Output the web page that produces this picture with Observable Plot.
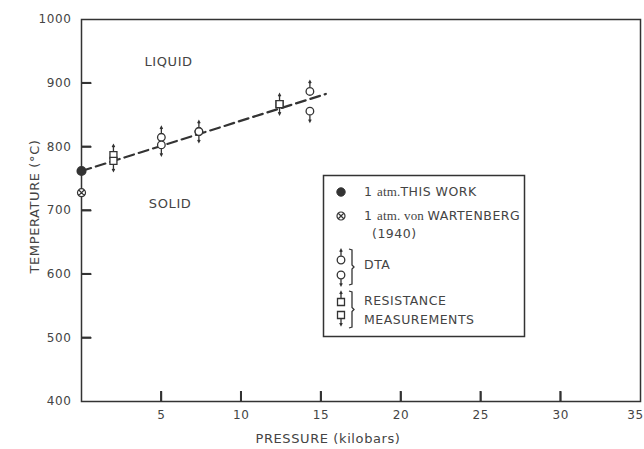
<!DOCTYPE html>
<html><head><meta charset="utf-8">
<script src="https://cdn.jsdelivr.net/npm/d3@7"></script>
<script src="https://cdn.jsdelivr.net/npm/@observablehq/plot@0.6"></script>
<style>
body{margin:0;background:#fff;}
#wrap{position:relative;width:644px;height:449px;}
#wrap > svg{position:absolute;left:0;top:0;}
</style></head><body><div id="wrap"></div>
<script>
// ---- data ----
const xTicks = [5, 10, 15, 20, 25, 30];
const xTickLast = [35];
const yTicks = [400, 500, 600, 700, 800, 900, 1000];
const yInnerTicks = [500, 600, 700, 800, 900];

const thisWorkP = [0];      const thisWorkT = [762];
const wartenbergP = [0];    const wartenbergT = [728];
const dtaUpP = [5, 7.35, 14.3];   const dtaUpT = [815, 824, 887];
const dtaDownP = [5, 7.35, 14.3]; const dtaDownT = [803, 824, 856];
const resUpP = [2.0, 12.4];   const resUpT = [787, 867];
const resDownP = [2.0, 12.4]; const resDownT = [778, 867];
const fitP = [0, 15.3];       const fitT = [762, 883];

const regionNames = ["LIQUID", "SOLID"];
const regionP = [5.45, 5.55];
const regionT = [934, 711];

const xLabel = "PRESSURE (kilobars)";
const yLabel = "TEMPERATURE (°C)";

// ---- helpers ----
const zip = (P, T) => P.map((p, i) => ({p, t: T[i]}));
const INK = "#333", TXT = "#444";

function sym(shape, tick) {
  return {draw(ctx, size) {
    const rr = Math.sqrt(size / Math.PI);
    let e;
    if (shape === "circle") { ctx.moveTo(rr, 0); ctx.arc(0, 0, rr, 0, 2 * Math.PI); e = rr; }
    else { const s = rr * 0.92; ctx.moveTo(-s, -s); ctx.lineTo(s, -s); ctx.lineTo(s, s); ctx.lineTo(-s, s); ctx.closePath(); e = s; }
    if (tick === "up") { ctx.moveTo(0, -e); ctx.lineTo(0, -e - 6.5); ctx.moveTo(-1.2, -e - 4.5); ctx.lineTo(0, -e - 6.8); ctx.lineTo(1.2, -e - 4.5); }
    if (tick === "down") { ctx.moveTo(0, e); ctx.lineTo(0, e + 6.5); ctx.moveTo(-1.2, e + 4.5); ctx.lineTo(0, e + 6.8); ctx.lineTo(1.2, e + 4.5); }
  }};
}
const crossed = {draw(ctx, size) {
  const rr = Math.sqrt(size / Math.PI), k = rr * 0.68;
  ctx.moveTo(rr, 0); ctx.arc(0, 0, rr, 0, 2 * Math.PI);
  ctx.moveTo(-k, -k); ctx.lineTo(k, k); ctx.moveTo(k, -k); ctx.lineTo(-k, k);
}};
const TICK = 10;
const tickUp = {draw(ctx) { ctx.moveTo(0, 0); ctx.lineTo(0, -TICK); }};
const tickRight = {draw(ctx) { ctx.moveTo(0, 0); ctx.lineTo(TICK, 0); }};
const symCU = sym("circle", "up"), symCD = sym("circle", "down");
const symSU = sym("square", "up"), symSD = sym("square", "down");

const W = 644, H = 449, ML = 81, MR = 4, MT = 19, MB = 48;
const innerW = W - ML - MR, innerH = H - MT - MB;

const chart = Plot.plot({
  width: W, height: H,
  marginLeft: ML, marginRight: MR, marginTop: MT, marginBottom: MB,
  x: {domain: [0, 35]},
  y: {domain: [400, 1000]},
  style: {fontFamily: "DejaVu Sans, sans-serif", fontSize: "12px", color: TXT, background: "white", letterSpacing: "0.6px"},
  marks: [
    Plot.frame({stroke: INK, strokeWidth: 1.5}),
    Plot.dot(xTicks, {x: d => d, y: () => 400, symbol: tickUp, r: 5, fill: "none", stroke: INK, strokeWidth: 1.5}),
    Plot.dot(yInnerTicks, {x: () => 0, y: d => d, symbol: tickRight, r: 5, fill: "none", stroke: INK, strokeWidth: 1.5}),
    Plot.axisX(xTicks, {tickSize: 0, tickPadding: 9, label: null, color: TXT, tickFormat: d => String(d)}),
    Plot.axisX(xTickLast, {tickSize: 0, tickPadding: 9, label: null, color: TXT, dx: -5, tickFormat: d => String(d)}),
    Plot.axisY(yTicks, {tickSize: 0, tickPadding: 10, label: null, color: TXT, tickFormat: d => String(d)}),
    Plot.text([xLabel], {text: d => d, frameAnchor: "bottom", lineAnchor: "middle", textAnchor: "middle", dx: -33, dy: 37, fontSize: 13, fill: TXT}),
    Plot.text([yLabel], {text: d => d, frameAnchor: "left", textAnchor: "middle", lineAnchor: "middle", rotate: -90, dx: -47, dy: -4, fontSize: 13, fill: TXT}),
    Plot.text(zip(regionP, regionT).map((d, i) => ({...d, name: regionNames[i]})), {x: "p", y: "t", text: "name", fontSize: 13, fill: TXT}),
    Plot.line(zip(fitP, fitT), {x: "p", y: "t", stroke: INK, strokeWidth: 2.2, strokeDasharray: "10,5"}),
    Plot.dot(zip(resUpP, resUpT), {x: "p", y: "t", r: 3.8, symbol: symSU, fill: "white", stroke: INK, strokeWidth: 1.3}),
    Plot.dot(zip(resDownP, resDownT), {x: "p", y: "t", r: 3.8, symbol: symSD, fill: "white", stroke: INK, strokeWidth: 1.3}),
    Plot.dot(zip(dtaUpP, dtaUpT), {x: "p", y: "t", r: 3.8, symbol: symCU, fill: "white", stroke: INK, strokeWidth: 1.3}),
    Plot.dot(zip(dtaDownP, dtaDownT), {x: "p", y: "t", r: 3.8, symbol: symCD, fill: "white", stroke: INK, strokeWidth: 1.3}),
    Plot.ruleX(xTicks, {x: d => d, insetTop: innerH - TICK, stroke: INK, strokeWidth: 1.5}),
    Plot.ruleY(yInnerTicks, {y: d => d, insetRight: innerW - TICK, stroke: INK, strokeWidth: 1.5}),
    Plot.dot(zip(wartenbergP, wartenbergT), {x: "p", y: "t", r: 4, symbol: crossed, fill: "white", stroke: INK, strokeWidth: 1.2}),
    Plot.dot(zip(thisWorkP, thisWorkT), {x: "p", y: "t", r: 4.3, fill: INK, stroke: INK})
  ]
});
document.getElementById("wrap").appendChild(chart);

// ---- overlay: inward ticks (via the chart's own scales) and legend box ----
const sx = chart.scale("x"), sy = chart.scale("y");
const leg = d3.select("#wrap").append("svg").attr("width", W).attr("height", H)
  .style("pointer-events", "none")
  .style("font-family", "DejaVu Sans, sans-serif").style("font-size", "12.5px");
const x0 = sx.apply(0), y0 = sy.apply(400);
leg.selectAll("line.xt").data(xTicks).join("line").attr("class", "xt")
  .attr("x1", d => sx.apply(d)).attr("x2", d => sx.apply(d)).attr("y1", y0).attr("y2", y0 - TICK)
  .attr("stroke", INK).attr("stroke-width", 1.5);
leg.selectAll("line.yt").data(yInnerTicks).join("line").attr("class", "yt")
  .attr("y1", d => sy.apply(d)).attr("y2", d => sy.apply(d)).attr("x1", x0).attr("x2", x0 + TICK)
  .attr("stroke", INK).attr("stroke-width", 1.5);

leg.append("rect").attr("x", 323.5).attr("y", 175.5).attr("width", 201).attr("height", 161)
  .attr("fill", "white").attr("stroke", INK).attr("stroke-width", 1.5);
const path = (type, size) => d3.symbol().type(type).size(size)();
const A = Math.PI;
function legSym(type, r, x, y, fill, sw) {
  leg.append("path").attr("d", path(type, A * r * r)).attr("transform", `translate(${x},${y})`)
    .attr("fill", fill).attr("stroke", INK).attr("stroke-width", sw);
}
legSym(d3.symbolCircle, 4.2, 341, 192, INK, 1);
legSym(crossed, 4, 341, 216, "white", 1.2);
legSym(symCU, 3.8, 341, 260, "white", 1.3);
legSym(symCD, 3.8, 341, 275, "white", 1.3);
legSym(symSU, 3.8, 341, 302, "white", 1.3);
legSym(symSD, 3.8, 341, 315, "white", 1.3);
function brace(x, ya, yb) {
  const m = (ya + yb) / 2;
  leg.append("path").attr("d", `M${x - 3},${ya} L${x},${ya + 1} L${x},${m - 2} L${x + 2},${m} L${x},${m + 2} L${x},${yb - 1} L${x - 3},${yb}`)
    .attr("fill", "none").attr("stroke", INK).attr("stroke-width", 1.3);
}
brace(352, 249, 285);
brace(352, 291, 328);
function legText(x, y, parts) {
  const t = leg.append("text").attr("x", x).attr("y", y).attr("dy", "0.35em").attr("fill", TXT);
  for (const [s, serif] of parts) {
    const ts = t.append("tspan").text(s);
    if (serif) ts.style("font-family", "Liberation Serif, serif").style("font-size", "13px").style("letter-spacing", "0.2px");
    else ts.style("letter-spacing", "0.5px");
  }
}
legText(364, 192, [["1 ", false], ["atm.", true], ["THIS  WORK", false]]);
legText(364, 216, [["1 ", false], ["atm. von ", true], ["WARTENBERG", false]]);
legText(372, 234, [["(1940)", false]]);
legText(364, 265, [["DTA", false]]);
legText(364, 301, [["RESISTANCE", false]]);
legText(364, 320, [["MEASUREMENTS", false]]);
</script>
</body></html>
